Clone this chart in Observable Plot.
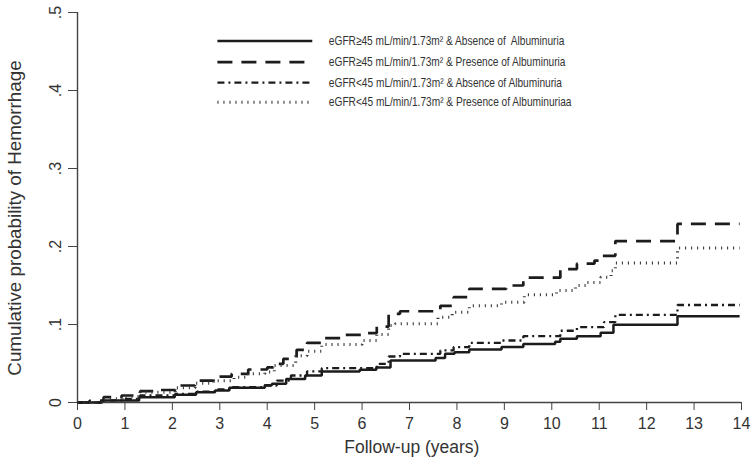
<!DOCTYPE html>
<html><head><meta charset="utf-8">
<script src="https://cdn.jsdelivr.net/npm/d3@7"></script>
<script src="https://cdn.jsdelivr.net/npm/@observablehq/plot@0.6"></script>
<style>body{margin:0;background:#fff}svg{display:block}</style>
</head><body><div id="chart"></div>
<script>
// ---- data ----
const seriesLabels = [
  "eGFR\u226545 mL/min/1.73m\u00b2 & Absence of\u00a0 Albuminuria",
  "eGFR\u226545 mL/min/1.73m\u00b2 & Presence of Albuminuria",
  "eGFR<45 mL/min/1.73m\u00b2 & Absence of Albuminuria",
  "eGFR<45 mL/min/1.73m\u00b2 & Presence of Albuminuriaa"
];
// eGFR>=45, no albuminuria (solid)
const s1Years = [0, 0.5, 1.3, 2.05, 2.5, 2.9, 3.2, 3.95, 4.1, 4.4, 4.8, 5.15, 5.95, 6.3, 6.6, 7.55, 7.75, 7.95, 8.26, 8.94, 9.4, 10.07, 10.18, 10.53, 11.03, 11.3, 12.65, 13.96];
const s1Prob  = [0, 0.0026, 0.0068, 0.010, 0.013, 0.0154, 0.0188, 0.022, 0.024, 0.030, 0.0346, 0.0397, 0.042, 0.045, 0.054, 0.057, 0.0624, 0.0645, 0.068, 0.071, 0.075, 0.078, 0.0816, 0.085, 0.0893, 0.0996, 0.1107, 0.1107];
// eGFR>=45, albuminuria (dashed)
const s2Years = [0, 0.25, 0.55, 0.93, 1.32, 1.74, 2.06, 2.48, 2.87, 3.25, 3.6, 4.0, 4.13, 4.34, 4.62, 4.84, 5.15, 5.54, 6.0, 6.31, 6.56, 6.8, 7.65, 7.93, 8.26, 9.04, 9.4, 10.18, 10.53, 10.9, 11.06, 11.34, 12.65, 13.96];
const s2Prob  = [0, 0.002, 0.0068, 0.009, 0.0145, 0.016, 0.0218, 0.028, 0.0333, 0.0368, 0.0423, 0.045, 0.0496, 0.056, 0.0675, 0.0765, 0.0825, 0.0868, 0.089, 0.0974, 0.1137, 0.117, 0.124, 0.135, 0.1457, 0.150, 0.160, 0.171, 0.178, 0.182, 0.188, 0.207, 0.229, 0.229];
// eGFR<45, no albuminuria (dash-dot)
const s3Years = [0, 0.55, 0.95, 1.32, 2.06, 2.48, 2.9, 3.25, 3.95, 4.2, 4.5, 4.84, 5.15, 6.31, 6.56, 6.8, 7.65, 7.93, 8.26, 8.94, 9.4, 10.18, 10.53, 11.1, 11.34, 12.65, 13.96];
const s3Prob  = [0, 0.0026, 0.0047, 0.009, 0.011, 0.014, 0.0167, 0.0196, 0.0218, 0.028, 0.0346, 0.040, 0.044, 0.0496, 0.059, 0.0624, 0.0667, 0.071, 0.0765, 0.0795, 0.085, 0.092, 0.0966, 0.103, 0.1124, 0.125, 0.125];
// eGFR<45, albuminuria (dotted)
const s4Years = [0, 0.55, 0.95, 1.32, 2.06, 2.48, 2.87, 3.3, 3.6, 3.95, 4.15, 4.6, 4.84, 5.15, 6.0, 6.31, 6.56, 6.7, 7.6, 7.9, 8.26, 8.94, 9.42, 10.1, 10.5, 10.75, 11.03, 11.25, 11.34, 12.65, 13.96];
const s4Prob  = [0, 0.0047, 0.0077, 0.013, 0.0188, 0.0248, 0.028, 0.0325, 0.0368, 0.039, 0.0474, 0.060, 0.0658, 0.0744, 0.0795, 0.0872, 0.0987, 0.101, 0.1094, 0.1158, 0.124, 0.1286, 0.138, 0.1436, 0.150, 0.154, 0.1607, 0.169, 0.179, 0.198, 0.198];

const xTicks = [0,1,2,3,4,5,6,7,8,9,10,11,12,13,14];
const yTicks = [0, 0.1, 0.2, 0.3, 0.4, 0.5];
const yTickLabels = ["0", ".1", ".2", ".3", ".4", ".5"];
const xTitle = "Follow-up (years)";
const yTitle = "Cumulative probability of Hemorrhage";

// ---- build ----
const seriesData = [[s1Years, s1Prob], [s2Years, s2Prob], [s3Years, s3Prob], [s4Years, s4Prob]]
  .map(([xs, ys], k) => xs.map((t, i) => ({t, p: ys[i], s: seriesLabels[k]})));

const styles = [
  {stroke: "#1c1c1c", strokeWidth: 2.5, strokeDasharray: null},
  {stroke: "#1c1c1c", strokeWidth: 2.7, strokeDasharray: "15,9"},
  {stroke: "#1c1c1c", strokeWidth: 2.3, strokeDasharray: "7,4,2,4"},
  {stroke: "#3a3a3a", strokeWidth: 3, strokeDasharray: "1.1,4.9"}
];

// legend layout (in data units)
const legX1 = 2.95, legX2 = 4.95, legTextX = 5.3;
const legY = [0.4635, 0.4365, 0.41, 0.385];

const font = "'Liberation Sans', Arial, sans-serif";
const marks = [];
seriesData.forEach((d, k) => {
  marks.push(Plot.line(d, {x: "t", y: "p", curve: "step-after", ...styles[k], strokeLinecap: "butt", strokeLinejoin: "miter"}));
  marks.push(Plot.line([{t: legX1, p: legY[k]}, {t: legX2, p: legY[k]}], {x: "t", y: "p", ...styles[k], strokeLinecap: "butt"}));
  marks.push(Plot.text([seriesLabels[k]], {x: legTextX, y: legY[k], text: d => d, textAnchor: "start", fontSize: 13, fill: "#333"}));
});

const chart = Plot.plot({
  width: 753, height: 465,
  marginLeft: 77, marginRight: 12, marginTop: 12, marginBottom: 63,
  style: {fontFamily: font, background: "#fff"},
  x: {domain: [0, 14]},
  y: {domain: [0, 0.5]},
  marks: [
    Plot.axisX({ticks: xTicks, tickSize: 8, tickPadding: 7, fontSize: 16, tickFormat: d => String(d), label: null, color: "#333", stroke: "#444"}),
    Plot.axisY({ticks: yTicks, tickSize: 9, tickFormat: () => "", label: null, stroke: "#444"}),
    Plot.ruleY([0], {stroke: "#444", strokeWidth: 1.4}),
    Plot.ruleX([0], {y1: 0, y2: 0.5, stroke: "#444", strokeWidth: 1.4}),
    Plot.text(yTicks.map((v, i) => ({v, lab: yTickLabels[i]})), {x: 0, y: "v", text: "lab", rotate: -90, dx: -21.5, fontSize: 16, fill: "#333"}),
    Plot.text([yTitle], {x: 0, y: 0.2365, text: d => d, rotate: -90, dx: -63, fontSize: 18.8, fill: "#333"}),
    Plot.text([xTitle], {x: 7.05, y: 0, text: d => d, dy: 45, fontSize: 17.5, fill: "#333"}),
    ...marks
  ]
});
document.getElementById("chart").append(chart);
// narrow the legend glyphs to match the condensed legend face of the original
chart.querySelectorAll("text").forEach(el => {
  if (seriesLabels.includes(el.textContent)) {
    const w = el.getComputedTextLength();
    el.setAttribute("textLength", (w * 0.78).toFixed(1));
    el.setAttribute("lengthAdjust", "spacingAndGlyphs");
  }
});
</script>
</body></html>
